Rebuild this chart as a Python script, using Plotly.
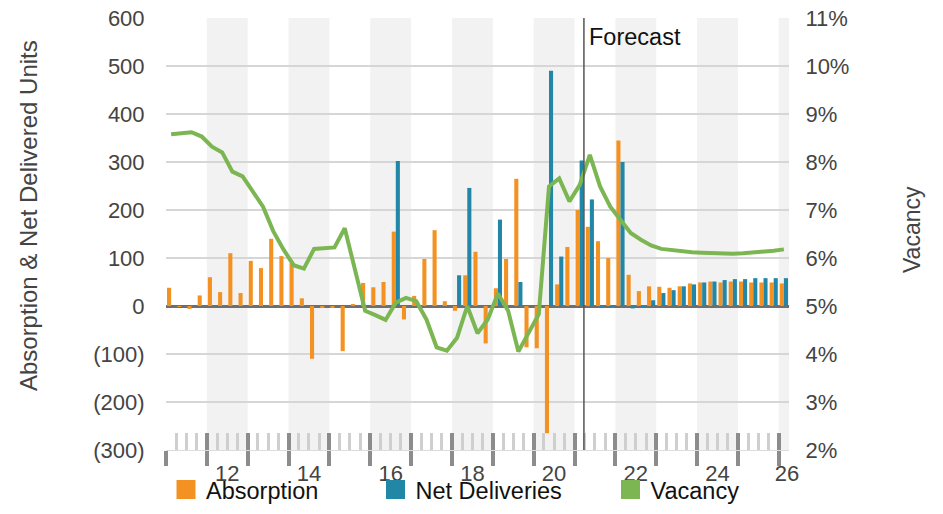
import plotly.graph_objects as go

# ---------------- data ----------------
quarters = [f"{y}Q{q}" for y in range(2011, 2027) for q in range(1, 5)][:61]

absorption = [38, -2, -6, 22, 60, 29, 110, 27, 94, 79, 140, 104,
              89, 16, -110, -4, -4, -94, 3, 48, 39, 50, 155, -28,
              21, 98, 158, 10, -10, 64, 113, -78, 37, 98, 265, -86,
              -88, -265, 45, 123, 200, 165, 135, 100, 345, 65, 31, 41,
              40, 38, 41, 47, 49, 51, 49, 51, 51, 49, 49, 49, 47]

net_deliveries = [0, 0, 0, 0, 0, 0, 0, 0, 0, 0, 0, 0,
                  0, 0, 0, 0, 0, 0, 0, 0, 0, 0, 302, 0,
                  0, 0, 0, 0, 64, 246, 0, 0, 180, 0, 50, 0,
                  0, 490, 103, 0, 303, 222, -2, -2, 300, -5, -2, 12,
                  27, 33, 41, 45, 49, 51, 54, 56, 56, 58, 58, 58, 58]

vacancy = [8.58, 8.60, 8.62, 8.53, 8.32, 8.20, 7.80, 7.70, 7.37, 7.07, 6.56, 6.18,
           5.85, 5.78, 6.19, 6.20, 6.22, 6.62, 5.75, 4.90, 4.81, 4.71, 5.07, 5.17,
           5.10, 4.72, 4.14, 4.07, 4.34, 5.00, 4.43, 4.72, 5.26, 4.90, 4.05, 4.45,
           4.83, 7.49, 7.66, 7.18, 7.52, 8.15, 7.49, 7.07, 6.80, 6.52, 6.38, 6.26,
           6.19, 6.16, 6.14, 6.12, 6.11, 6.10, 6.09, 6.09, 6.10, 6.11, 6.13, 6.15, 6.18]

left_ticks = [-300, -200, -100, 0, 100, 200, 300, 400, 500, 600]
left_labels = ["(300)", "(200)", "(100)", "0", "100", "200", "300", "400", "500", "600"]
right_ticks = [2, 3, 4, 5, 6, 7, 8, 9, 10, 11]
right_labels = [f"{v}%" for v in right_ticks]
year_labels = ["12", "14", "16", "18", "20", "22", "24", "26"]
forecast_start = "2021Q1"

# ---------------- helpers ----------------
ORANGE = "#F39223"
BLUE = "#2286A6"
GREEN = "#7BB652"
FONT = "Liberation Sans, Arial, sans-serif"

def qpos(label):
    return int(label[:4]) + (int(label[-1]) - 0.5) / 4

x_pos = [qpos(q) for q in quarters]
x_min = int(quarters[0][:4])
x_max = qpos(quarters[-1]) + 0.125
years = list(range(x_min, int(quarters[-1][:4]) + 1))
label_pos = [min(2000 + int(s) + 0.5, x_max - 0.05) for s in year_labels]
forecast_x = qpos(forecast_start) + 0.105

fig = go.Figure()
fig.add_trace(go.Bar(x=x_pos, y=absorption, name="Absorption", marker_color=ORANGE,
                     marker_line_width=0, showlegend=False))
fig.add_trace(go.Bar(x=x_pos, y=net_deliveries, name="Net Deliveries", marker_color=BLUE,
                     marker_line_width=0, showlegend=False))
fig.add_trace(go.Scatter(x=x_pos, y=vacancy, name="Vacancy", mode="lines", yaxis="y2",
                         line=dict(color=GREEN, width=4), showlegend=False))

# legend entries (one legend box per series, placed like the reference)
legend_items = [("Absorption", ORANGE, "x2", "legend", 0.0),
                ("Net Deliveries", BLUE, "x3", "legend2", 0.3363),
                ("Vacancy", GREEN, "x", "legend3", 0.7135)]
legend_layouts = {}
for nm, col, xa, lg, lx in legend_items:
    fig.add_trace(go.Scatter(x=[None], y=[None], name=nm, mode="markers", xaxis=xa, legend=lg,
                             marker=dict(symbol="square", size=18, color=col,
                                         line=dict(color=col, width=3))))
    legend_layouts[lg] = dict(orientation="h", xref="paper", yref="paper",
                              x=lx, xanchor="left", y=-0.092, yanchor="middle",
                              font=dict(size=23.5, color="#111111"),
                              bgcolor="rgba(0,0,0,0)", borderwidth=0)

shapes = []
for y in years:
    if y % 2 == 0:
        shapes.append(dict(type="rect", xref="x", yref="paper", x0=y, x1=min(y + 1, x_max),
                           y0=0, y1=1, fillcolor="#F2F2F2", line=dict(width=0), layer="below"))
shapes.append(dict(type="line", xref="x", yref="paper", x0=forecast_x, x1=forecast_x,
                   y0=0, y1=1, line=dict(color="#555555", width=1.5), layer="above"))

fig.update_layout(
    width=943, height=514,
    margin=dict(l=158, r=162, t=10, b=70),
    paper_bgcolor="white", plot_bgcolor="white",
    font=dict(family=FONT, size=22, color="#444444"),
    barmode="group", bargap=0.2, bargroupgap=0,
    shapes=shapes,
    annotations=[
        dict(text="Forecast", x=forecast_x, y=1, xref="x", yref="paper",
             xanchor="left", yanchor="top", xshift=3, yshift=-4, showarrow=False,
             font=dict(size=23.5, color="#111111")),
        dict(text="Absorption & Net Delivered Units", x=-0.2215, y=0.5415, xref="paper", yref="paper",
             xanchor="center", yanchor="middle", textangle=-90, showarrow=False,
             font=dict(size=24, color="#444444")),
        dict(text="Vacancy", x=1.1974, y=0.5115, xref="paper", yref="paper",
             xanchor="center", yanchor="middle", textangle=-90, showarrow=False,
             font=dict(size=23, color="#444444")),
    ],
    xaxis=dict(range=[x_min, x_max], tickmode="array", tickvals=years, showticklabels=False,
               ticks="inside", ticklen=17, tickwidth=3.5, tickcolor="#8C8C8C", automargin=False,
               showgrid=False, zeroline=False, showline=True, linecolor="#DCDCDC", linewidth=1,
               minor=dict(tickmode="linear", tick0=x_min, dtick=0.25, ticks="inside", ticklen=17,
                          tickwidth=3, tickcolor="#CFCFCF", showgrid=False)),
    xaxis2=dict(overlaying="x", anchor="y", side="bottom", range=[x_min, x_max],
                tickmode="array", tickvals=years, showticklabels=False, automargin=False,
                ticks="outside", ticklen=15, tickwidth=3.5, tickcolor="#8C8C8C",
                showgrid=False, zeroline=False, showline=False),
    xaxis3=dict(overlaying="x", anchor="y", side="bottom", range=[x_min, x_max],
                tickmode="array", tickvals=label_pos, ticktext=year_labels, automargin=False,
                ticks="outside", ticklen=4, tickcolor="rgba(0,0,0,0)",
                tickfont=dict(size=22, color="#444444"), ticklabeloverflow="allow",
                showgrid=False, zeroline=False, showline=False),
    yaxis=dict(range=[-300, 600], tickmode="array", tickvals=left_ticks, ticktext=left_labels,
               ticks="outside", ticklen=16, tickcolor="rgba(0,0,0,0)", ticklabeloverflow="allow",
               automargin=False, showgrid=True, gridcolor="#D6D6D6", gridwidth=1.5,
               zeroline=True, zerolinecolor="#6E6E6E", zerolinewidth=2.5),
    yaxis2=dict(overlaying="y", side="right", range=[2, 11], tickmode="array",
                tickvals=right_ticks, ticktext=right_labels, ticklabeloverflow="allow",
                ticks="outside", ticklen=11, tickcolor="rgba(0,0,0,0)", automargin=False,
                showgrid=False, zeroline=False),
    **legend_layouts,
)

fig.write_html("out.html")
